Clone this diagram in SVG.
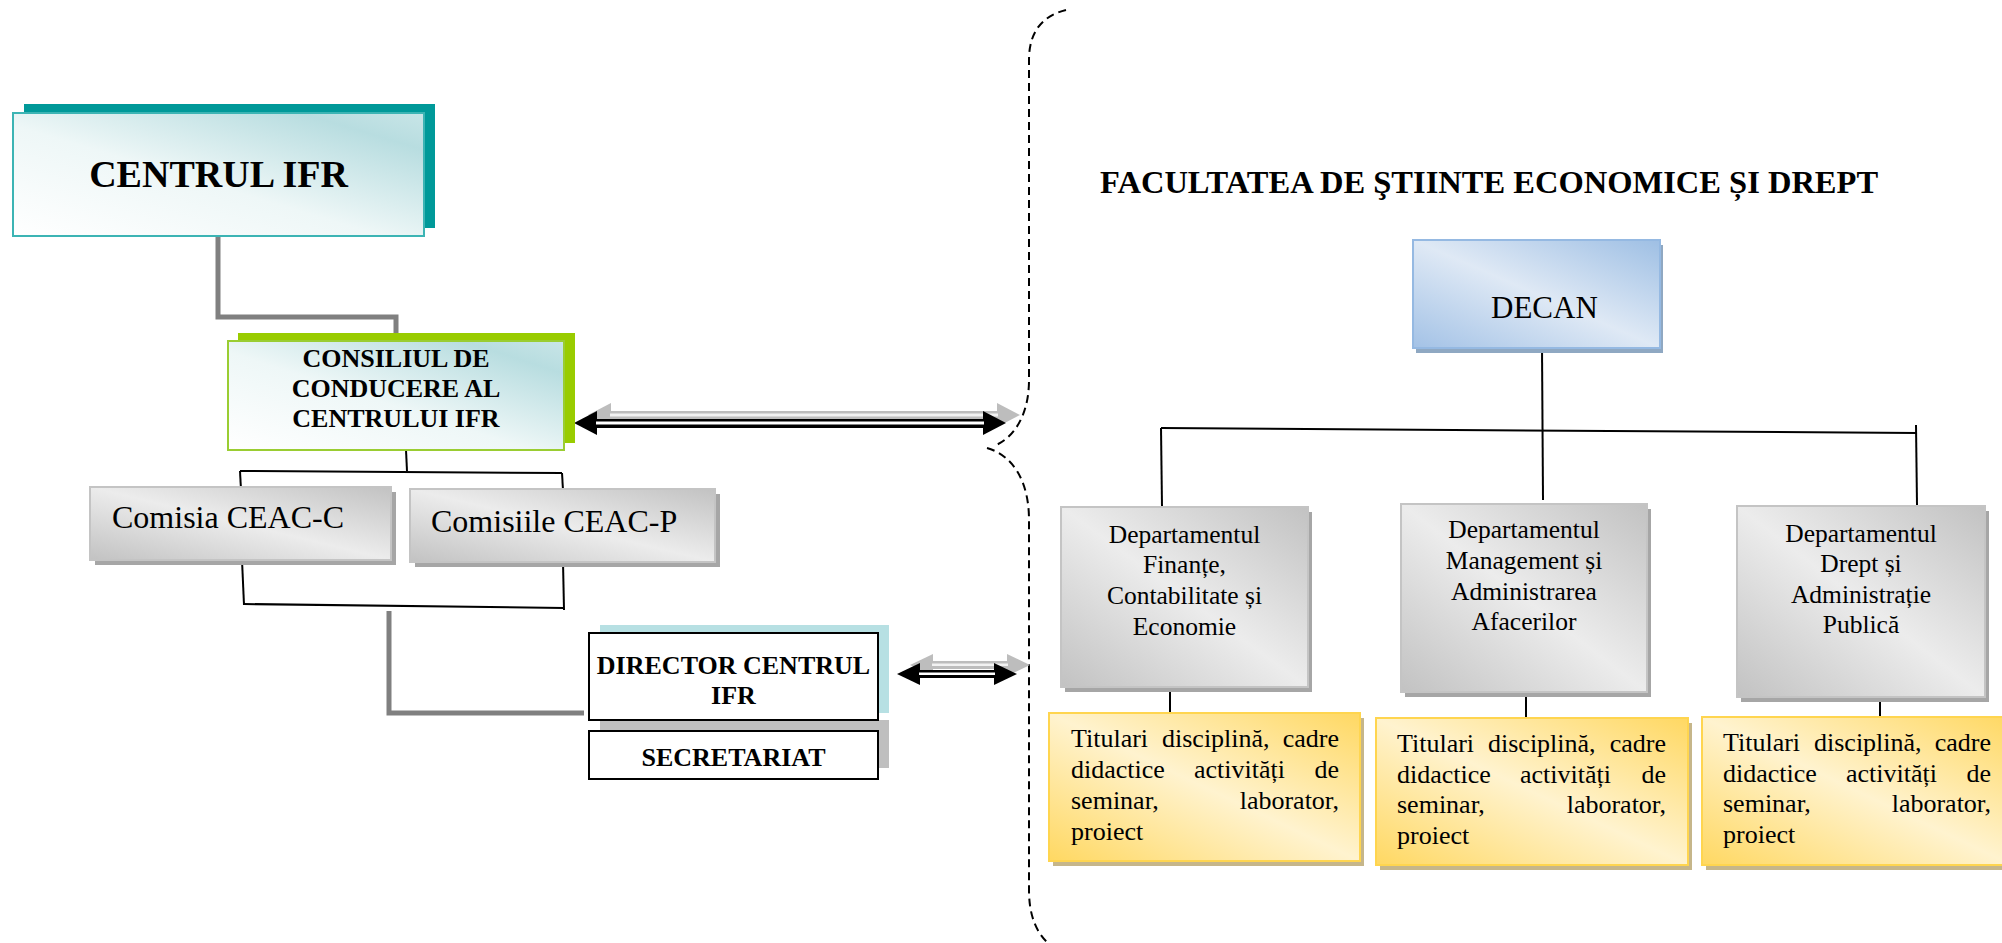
<svg xmlns="http://www.w3.org/2000/svg" width="2002" height="943" viewBox="0 0 2002 943">
<style>
  text { font-family: "Liberation Serif", "Times New Roman", serif; fill: #000; }
  .b { font-weight: bold; }
  .mid { text-anchor: middle; }
  .end { text-anchor: end; }
  .thin { stroke: #000; stroke-width: 2; fill: none; }
  .thick { stroke: #808080; stroke-width: 5; fill: none; }
  .brace { stroke: #000; stroke-width: 2; fill: none; stroke-dasharray: 8 5; }
  .gray { fill: url(#gGray); stroke: #c4c4c4; stroke-width: 2; }
  .gsh { fill: #a6a6a6; }
  .yel { fill: url(#gYel); stroke: #ffd54f; stroke-width: 2; }
  .ysh { fill: #c6b68a; }
  .dep { font-size: 25.5px; }
  .tit { font-size: 26px; }
</style>
<defs>
  <linearGradient id="gTeal" x1="0" y1="1" x2="1" y2="0">
    <stop offset="0" stop-color="#ffffff"/>
    <stop offset="0.45" stop-color="#eef7f7"/>
    <stop offset="0.85" stop-color="#b8dde0"/>
    <stop offset="1" stop-color="#c8e5e7"/>
  </linearGradient>
  <linearGradient id="gGray" x1="0" y1="1" x2="1" y2="0">
    <stop offset="0" stop-color="#c2c2c2"/>
    <stop offset="0.5" stop-color="#ececec"/>
    <stop offset="1" stop-color="#c2c2c2"/>
  </linearGradient>
  <linearGradient id="gYel" x1="0" y1="1" x2="1" y2="0">
    <stop offset="0" stop-color="#ffd862"/>
    <stop offset="0.5" stop-color="#fff3cf"/>
    <stop offset="1" stop-color="#ffd862"/>
  </linearGradient>
  <linearGradient id="gBlue" x1="0" y1="1" x2="1" y2="0">
    <stop offset="0" stop-color="#a3c2e6"/>
    <stop offset="0.5" stop-color="#dfe9f5"/>
    <stop offset="1" stop-color="#9ebfe4"/>
  </linearGradient>
</defs>

<g id="connectors">
  <path class="thick" d="M218 236 V317 H396 V333"/>
  <path class="thick" d="M389 611 V713 H584"/>
  <path class="thin" d="M406 450 L407 471"/>
  <path class="thin" d="M240 471 L562 473"/>
  <path class="thin" d="M240 471 L241 490"/>
  <path class="thin" d="M562 473 L563 490"/>
  <path class="thin" d="M242 560 L244 605"/>
  <path class="thin" d="M244 604 L564 608"/>
  <path class="thin" d="M563 562 L564 610"/>
  <path class="thin" d="M1542 348 L1543 500"/>
  <path class="thin" d="M1161 428 L1917 433"/>
  <path class="thin" d="M1161 428 L1162 507"/>
  <path class="thin" d="M1916 425 L1917 505"/>
  <path class="thin" d="M1170 687 V714"/>
  <path class="thin" d="M1526 692 V718"/>
  <path class="thin" d="M1880 697 V717"/>
  <path class="brace" d="M1066 10 C1042 16 1029 32 1029 60 L1029 380 C1029 415 1014 438 994 446"/>
  <path class="brace" d="M987 448 C1012 455 1029 480 1029 520 L1029 890 C1029 915 1036 932 1048 943"/>
  <g id="arrow-consiliu">
    <g transform="translate(14,-8)" fill="#bdbdbd">
      <polygon points="574,423 597,411 597,435"/>
      <polygon points="1006,423 983,411 983,435"/>
      <rect x="596" y="419" width="388" height="9"/>
      <rect x="596" y="421.5" width="388" height="3" fill="#f2f2f2"/>
    </g>
    <polygon points="574,423 597,411 597,435"/>
    <polygon points="1006,423 983,411 983,435"/>
    <rect x="596" y="419" width="388" height="9"/>
    <rect x="596" y="421.5" width="388" height="3" fill="#fff"/>
  </g>
  <g id="arrow-director">
    <g transform="translate(13,-9)" fill="#bdbdbd">
      <polygon points="897,674 920,663 920,685"/>
      <polygon points="1017,674 994,663 994,685"/>
      <rect x="919" y="670" width="76" height="8"/>
      <rect x="919" y="672.5" width="76" height="2.5" fill="#f2f2f2"/>
    </g>
    <polygon points="897,674 920,663 920,685"/>
    <polygon points="1017,674 994,663 994,685"/>
    <rect x="919" y="670" width="76" height="8"/>
    <rect x="919" y="672.5" width="76" height="2.5" fill="#fff"/>
  </g>
</g>

<g id="centrul-ifr">
  <rect x="24" y="104" width="411" height="124" fill="#009999"/>
  <rect x="13" y="113" width="411" height="123" fill="url(#gTeal)" stroke="#3cb4b4" stroke-width="2"/>
  <text class="b mid" x="218.5" y="187" font-size="38">CENTRUL IFR</text>
</g>

<g id="consiliul">
  <rect x="238" y="333" width="337" height="110" fill="#99cc00"/>
  <rect x="228" y="341" width="336" height="109" fill="url(#gTeal)" stroke="#9acd32" stroke-width="2"/>
  <text class="b mid" x="396" font-size="26"><tspan x="396" y="367">CONSILIUL DE</tspan><tspan x="396" y="397">CONDUCERE AL</tspan><tspan x="396" y="427">CENTRULUI IFR</tspan></text>
</g>

<g id="comisia-ceac-c">
  <rect class="gsh" x="95" y="492" width="301" height="73"/>
  <rect class="gray" x="90" y="487" width="301" height="73"/>
  <text x="112" y="528" font-size="32">Comisia CEAC-C</text>
</g>

<g id="comisiile-ceac-p">
  <rect class="gsh" x="415" y="494" width="305" height="73"/>
  <rect class="gray" x="410" y="489" width="305" height="73"/>
  <text x="431" y="532" font-size="32">Comisiile CEAC-P</text>
</g>

<g id="director">
  <rect x="600" y="625" width="289" height="88" fill="#b7e0e3"/>
  <rect x="600" y="720" width="289" height="48" fill="#bfbfbf"/>
  <rect x="589" y="633" width="289" height="87" fill="#fff" stroke="#000" stroke-width="2"/>
  <text class="b mid" font-size="26"><tspan x="733.5" y="674">DIRECTOR CENTRUL</tspan><tspan x="733.5" y="704">IFR</tspan></text>
</g>

<g id="secretariat">
  <rect x="589" y="731" width="289" height="48" fill="#fff" stroke="#000" stroke-width="2"/>
  <text class="b mid" x="733.5" y="766" font-size="26">SECRETARIAT</text>
</g>

<g id="facultatea-title">
  <text class="b" x="1100" y="193" font-size="32.5">FACULTATEA DE ŞTIINTE ECONOMICE ȘI DREPT</text>
</g>

<g id="decan">
  <rect x="1416" y="245" width="247" height="108" fill="#8fa8c2"/>
  <rect x="1413" y="240" width="247" height="108" fill="url(#gBlue)" stroke="#95b9e2" stroke-width="2"/>
  <text x="1491" y="318" font-size="31">DECAN</text>
</g>

<g id="dept-finante">
  <rect class="gsh" x="1065" y="512" width="247" height="180"/>
  <rect class="gray" x="1061" y="507" width="247" height="180"/>
  <text class="dep mid"><tspan x="1184.5" y="543">Departamentul</tspan><tspan x="1184.5" y="573">Finanțe,</tspan><tspan x="1184.5" y="604">Contabilitate și</tspan><tspan x="1184.5" y="635">Economie</tspan></text>
</g>

<g id="dept-management">
  <rect class="gsh" x="1405" y="509" width="246" height="188"/>
  <rect class="gray" x="1401" y="504" width="246" height="188"/>
  <text class="dep mid"><tspan x="1524" y="538">Departamentul</tspan><tspan x="1524" y="569">Management și</tspan><tspan x="1524" y="600">Administrarea</tspan><tspan x="1524" y="630">Afacerilor</tspan></text>
</g>

<g id="dept-drept">
  <rect class="gsh" x="1741" y="511" width="248" height="191"/>
  <rect class="gray" x="1737" y="506" width="248" height="191"/>
  <text class="dep mid"><tspan x="1861" y="542">Departamentul</tspan><tspan x="1861" y="572">Drept și</tspan><tspan x="1861" y="603">Administrație</tspan><tspan x="1861" y="633">Publică</tspan></text>
</g>

<g id="titulari-1">
  <rect class="ysh" x="1053" y="718" width="311" height="148"/>
  <rect class="yel" x="1049" y="713" width="311" height="148"/>
  <text class="tit" x="1071" y="747">Titulari</text>
  <text class="tit" x="1162" y="747">disciplină,</text>
  <text class="tit end" x="1339" y="747">cadre</text>
  <text class="tit" x="1071" y="778">didactice</text>
  <text class="tit" x="1194" y="778">activități</text>
  <text class="tit end" x="1339" y="778">de</text>
  <text class="tit" x="1071" y="809">seminar,</text>
  <text class="tit end" x="1339" y="809">laborator,</text>
  <text class="tit" x="1071" y="840">proiect</text>
</g>

<g id="titulari-2">
  <rect class="ysh" x="1380" y="723" width="312" height="147"/>
  <rect class="yel" x="1376" y="718" width="312" height="147"/>
  <text class="tit" x="1397" y="752">Titulari</text>
  <text class="tit" x="1488" y="752">disciplină,</text>
  <text class="tit end" x="1666" y="752">cadre</text>
  <text class="tit" x="1397" y="783">didactice</text>
  <text class="tit" x="1520" y="783">activități</text>
  <text class="tit end" x="1666" y="783">de</text>
  <text class="tit" x="1397" y="813">seminar,</text>
  <text class="tit end" x="1666" y="813">laborator,</text>
  <text class="tit" x="1397" y="844">proiect</text>
</g>

<g id="titulari-3">
  <rect class="ysh" x="1706" y="722" width="310" height="148"/>
  <rect class="yel" x="1702" y="717" width="310" height="148"/>
  <text class="tit" x="1723" y="751">Titulari</text>
  <text class="tit" x="1814" y="751">disciplină,</text>
  <text class="tit end" x="1991" y="751">cadre</text>
  <text class="tit" x="1723" y="782">didactice</text>
  <text class="tit" x="1846" y="782">activități</text>
  <text class="tit end" x="1991" y="782">de</text>
  <text class="tit" x="1723" y="812">seminar,</text>
  <text class="tit end" x="1991" y="812">laborator,</text>
  <text class="tit" x="1723" y="843">proiect</text>
</g>
</svg>
